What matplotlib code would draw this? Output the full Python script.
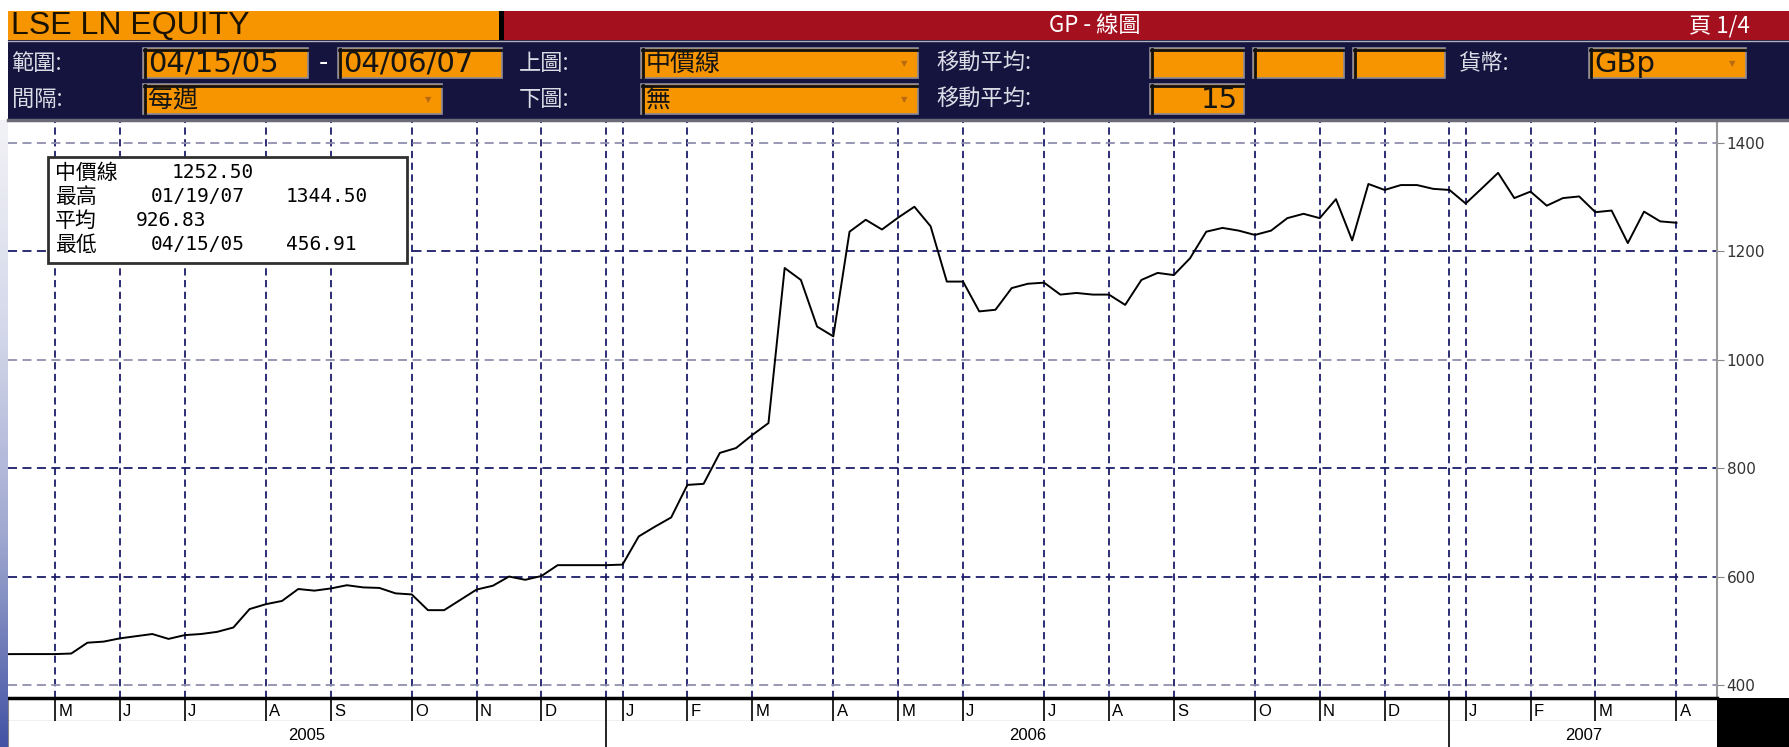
import numpy as np
import pandas as pd
import matplotlib
matplotlib.use("Agg")
import matplotlib.pyplot as plt
from matplotlib.patches import Rectangle
from matplotlib.colors import LinearSegmentedColormap

plt.rcParams['font.family'] = ['Noto Sans CJK TC', 'DejaVu Sans']

# weekly mid price (GBp), 04/15/05 - 04/06/07
weeks = pd.date_range('2005-04-15', '2007-04-06', freq='W-FRI')
mid_price = [
    456.91, 457, 457, 457, 458, 478, 480, 486, 490, 494,
    485, 492, 494, 498, 506, 540, 549, 555, 577, 574,
    578, 584, 580, 579, 569, 567, 538, 538, 557, 576,
    583, 600, 594, 601, 621, 621, 621, 621, 622, 674,
    692, 709, 769, 771, 828, 837, 861, 883, 1169, 1147,
    1061, 1043, 1236, 1258, 1240, 1262, 1282, 1246, 1144, 1144,
    1089, 1092, 1132, 1140, 1142, 1120, 1123, 1120, 1120, 1101,
    1147, 1160, 1156, 1187, 1236, 1243, 1238, 1230, 1238, 1261,
    1269, 1261, 1296, 1220, 1324, 1313, 1322, 1322, 1315, 1313,
    1288, 1316, 1344.5, 1298, 1310, 1284, 1298, 1301, 1272, 1275,
    1215, 1273, 1255, 1252.5,
]
y_ticks = [400, 600, 800, 1000, 1200, 1400]
dark_grid = [600, 800, 1200]
month_letters = ['J', 'F', 'M', 'A', 'M', 'J', 'J', 'A', 'S', 'O', 'N', 'D']

# stats box text
stat_labels = ['中價線', '最高', '平均', '最低']
stat_dates = ['', '01/19/07', '', '04/15/05']
stat_values = ['1252.50', '1344.50', '926.83', '456.91']

W, H = 1789, 747
NAVY = '#15143f'
ORANGE = '#f79500'
RED = '#a5101f'
GRID = '#1c1c6a'

x = np.arange(len(weeks))
month_idx = [i for i in range(1, len(weeks)) if weeks[i].month != weeks[i - 1].month]
year_idx = [i for i in range(len(weeks) - 1) if weeks[i].year != weeks[i + 1].year]

fig = plt.figure(figsize=(W / 100, H / 100), dpi=100)

def px_axes(x0, x1, y0, y1, **kw):
    return fig.add_axes([x0 / W, 1 - y1 / H, (x1 - x0) / W, (y1 - y0) / H], **kw)

# main chart
ax = px_axes(8, 1717, 120, 698)
ax.plot(x, mid_price, color='black', lw=1.4, zorder=3)
ax.set_xlim(0.1, 105.5)
ax.set_ylim(376, 1442)
for i in month_idx + year_idx:
    ax.axvline(i, color=GRID, ls=(0, (4, 2.5)), lw=1.3, zorder=1)
for v in y_ticks:
    ax.axhline(v, color=GRID if v in dark_grid else '#9090b0', ls=(0, (5, 3)),
               lw=1.3, zorder=1)
ax.yaxis.tick_right()
ax.set_yticks(y_ticks)
ax.set_yticklabels([str(v) for v in y_ticks], fontsize=11, color='#333333',
                   family='DejaVu Sans')
ax.tick_params(axis='y', length=5, color='#888888', pad=2)
ax.set_xticks([])
for s in ['top', 'left', 'bottom']:
    ax.spines[s].set_visible(False)
ax.spines['right'].set_color('#999999')
ax.spines['right'].set_linewidth(1.5)

# month row
axm = px_axes(8, 1717, 698, 721, sharex=ax)
axm.set_ylim(0, 1)
for i in month_idx + year_idx:
    axm.axvline(i, color='black', lw=1.2)
for i in month_idx:
    axm.text(i + 0.2, 0.42, month_letters[weeks[i].month - 1], fontsize=12,
             va='center', ha='left', family='Liberation Sans')
axm.set_yticks([])
axm.tick_params(axis='x', length=0, labelbottom=False)
axm.spines['top'].set_linewidth(2.5)
axm.spines['right'].set_visible(False)
axm.spines['left'].set_color('#888888')

# year row
axy = px_axes(8, 1717, 721, 747, sharex=ax)
axy.set_ylim(0, 1)
edges = [0.1] + year_idx + [105.5]
for i in year_idx:
    axy.axvline(i, color='black', lw=1.2)
for k in range(len(edges) - 1):
    axy.text((edges[k] + edges[k + 1]) / 2, 0.45, str(weeks[0].year + k),
             fontsize=12, ha='center', va='center', family='Liberation Sans')
axy.set_yticks([])
axy.tick_params(axis='x', length=0, labelbottom=False)
for s in ['top', 'right', 'bottom']:
    axy.spines[s].set_visible(False)
axy.spines['left'].set_color('#888888')

# overlay in pixel coordinates: header, stats box, corner box
ov = fig.add_axes([0, 0, 1, 1], zorder=10)
ov.patch.set_alpha(0)
ov.axis('off')

strip = LinearSegmentedColormap.from_list(
    'strip', ['#f2f2f6', '#d4d8ea', '#a0a8d0', '#4453a4'])
ov.imshow(np.linspace(0, 1, 200).reshape(-1, 1), cmap=strip, aspect='auto',
          extent=(0, 8, 747, 120))
ov.set_xlim(0, W)
ov.set_ylim(H, 0)

ov.add_patch(Rectangle((8, 40), W - 8, 80, fc=NAVY, ec='none'))
ov.add_patch(Rectangle((8, 11), 491, 29, fc=ORANGE, ec='none'))
ov.add_patch(Rectangle((499, 11), 5, 29, fc='black', ec='none'))
ov.add_patch(Rectangle((504, 11), W - 504, 29, fc=RED, ec='none'))
ov.plot([8, W], [40.5, 40.5], color='#b0b0b8', lw=1)
ov.plot([8, W], [120, 120], color='#6a6a78', lw=2.5)
ov.add_patch(Rectangle((1717, 698), W - 1717, 49, fc='black', ec='none'))

ov.text(11, 26, 'LSE LN EQUITY', fontsize=23, va='center', color='#1a1200',
        family='Liberation Sans')
ov.text(1095, 26, 'GP - 線圖', fontsize=16, va='center', ha='center',
        color='white')
ov.text(1689, 26, '頁 1/4', fontsize=16, va='center', color='white')


def field(x0, x1, y0, y1, text='', align='left', arrow=False, cjk=False):
    ov.add_patch(Rectangle((x0, y0), x1 - x0, y1 - y0, fc=ORANGE,
                           ec='#8c8c9c', lw=1.2))
    ov.plot([x0 + 1, x1 - 1], [y0 + 1.5, y0 + 1.5], color='#101010', lw=2)
    ov.plot([x0 + 1.5, x0 + 1.5], [y0 + 1, y1 - 1], color='#101010', lw=2)
    yc = (y0 + y1) / 2 + 1
    if text:
        if align == 'left':
            ov.text(x0 + 5, yc, text, va='center', ha='left',
                    fontsize=18 if cjk else 21, color='#141414',
                    family=None if cjk else 'DejaVu Sans')
        else:
            ov.text(x1 - 6, yc, text, va='center', ha='right', fontsize=21,
                    color='#141414', family='DejaVu Sans')
    if arrow:
        ov.text(x1 - 14, yc, '▼', va='center', ha='center', fontsize=6,
                color='#b86a10', family='DejaVu Sans')


def label(x0, yc, text):
    ov.text(x0, yc, text, va='center', ha='left', fontsize=16, color='#dcdce6')


r1 = (48, 78)
r2 = (84, 114)
label(12, 63, '範圍:')
field(143, 308, *r1, '04/15/05')
ov.text(323, 63, '-', fontsize=19, va='center', ha='center', color='white')
field(338, 502, *r1, '04/06/07')
label(519, 63, '上圖:')
field(641, 918, *r1, '中價線', arrow=True, cjk=True)
label(936, 63, '移動平均:')
field(1150, 1244, *r1)
field(1253, 1344, *r1)
field(1353, 1445, *r1)
label(1458, 63, '貨幣:')
field(1589, 1746, *r1, 'GBp', arrow=True)

label(12, 99, '間隔:')
field(143, 442, *r2, '每週', arrow=True, cjk=True)
label(519, 99, '下圖:')
field(641, 918, *r2, '無', arrow=True, cjk=True)
label(936, 99, '移動平均:')
field(1150, 1244, *r2, '15', align='right')

# stats box
ov.add_patch(Rectangle((48, 157), 359, 106, fc='white', ec='#303030', lw=2))
row_y = [173, 197, 221, 245]
for k in range(4):
    ov.text(55, row_y[k], stat_labels[k], fontsize=15, va='center', ha='left',
            color='black')
    if stat_dates[k]:
        ov.text(151, row_y[k], stat_dates[k], fontsize=14, va='center',
                family='DejaVu Sans Mono', color='black')
        ov.text(286, row_y[k], stat_values[k], fontsize=14, va='center',
                family='DejaVu Sans Mono', color='black')
    else:
        ov.text(172 if k == 0 else 136, row_y[k], stat_values[k], fontsize=14,
                va='center', family='DejaVu Sans Mono', color='black')

fig.savefig('out.png', dpi=100)
